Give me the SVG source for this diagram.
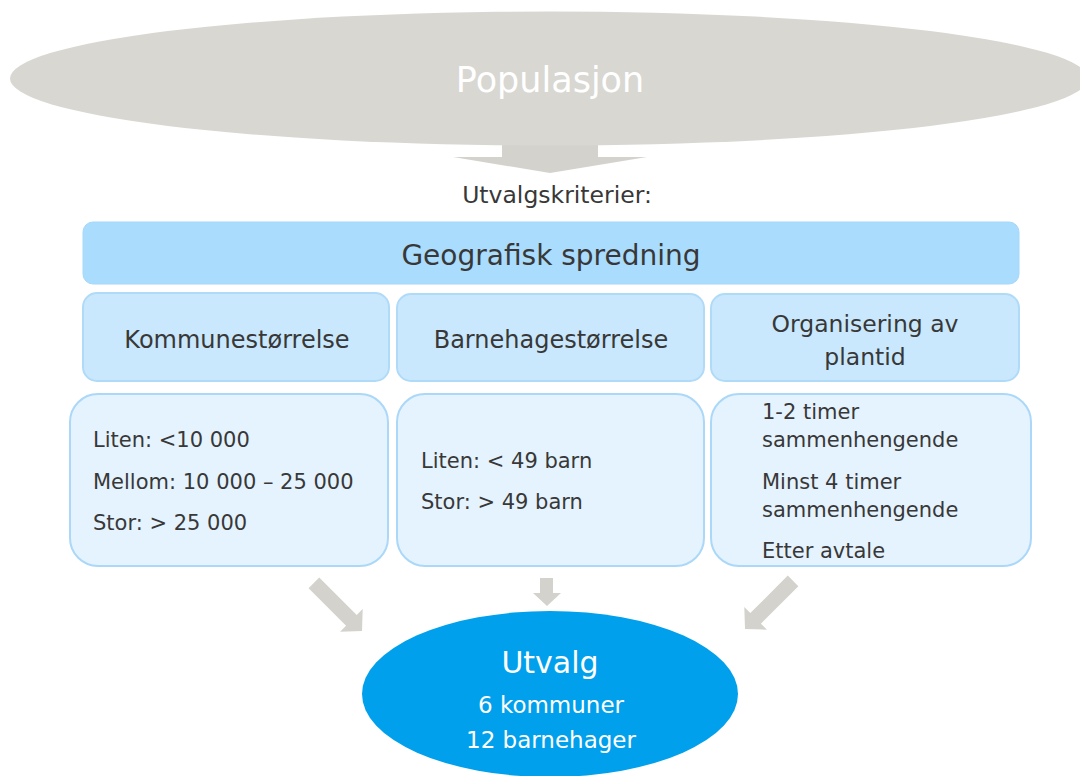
<svg xmlns="http://www.w3.org/2000/svg" xmlns:xlink="http://www.w3.org/1999/xlink" width="1080" height="776" viewBox="0 0 1080 776">
<style>
  .t { font-family: "DejaVu Sans", Verdana, sans-serif; fill: #383838; }
  .w { font-family: "DejaVu Sans", Verdana, sans-serif; fill: #ffffff; }
  .mid { text-anchor: middle; }
  .arrow { fill: #D3D2CC; }
  .bar { fill: #AADCFD; stroke: #A6D8FA; stroke-width: 1; }
  .hdr { fill: #CAE8FD; stroke: #B0DBF8; stroke-width: 2; }
  .body { fill: #E5F3FE; stroke: #ABD8F8; stroke-width: 2; }
</style>
<defs>
  <path id="diagArrow" d="M-68,-7.5 L-15,-7.5 L-15,-16 L0,0 L-15,16 L-15,7.5 L-68,7.5 Z"/>
</defs>
<rect width="1080" height="776" fill="#ffffff"/>

<g id="connectors">
  <polygon class="arrow" points="502,135 598,135 598,157 647,157 550,173 453,157 502,157"/>
  <use xlink:href="#diagArrow" class="arrow" transform="translate(362,631) rotate(45)"/>
  <use xlink:href="#diagArrow" class="arrow" transform="translate(745,629) rotate(135)"/>
  <polygon class="arrow" points="540,578 553,578 553,593 561,593 547,606 533,593 540,593"/>
</g>

<g id="populasjon">
  <ellipse cx="549" cy="78.5" rx="539" ry="67" fill="#D8D7D2"/>
  <text class="w mid" x="550" y="92" font-size="35">Populasjon</text>
</g>

<g id="utvalgskriterier">
  <text class="t mid" x="557" y="203" font-size="23.5">Utvalgskriterier:</text>
</g>

<g id="geografisk">
  <rect class="bar" x="83" y="222" width="936" height="62" rx="10"/>
  <text class="t mid" x="551" y="265" font-size="28">Geografisk spredning</text>
</g>

<g id="kommunestorrelse">
  <rect class="hdr" x="83" y="293" width="306" height="88" rx="14"/>
  <text class="t mid" x="237" y="348" font-size="24">Kommunestørrelse</text>
</g>

<g id="barnehagestorrelse">
  <rect class="hdr" x="397" y="294" width="307" height="87" rx="14"/>
  <text class="t mid" x="551" y="348" font-size="24">Barnehagestørrelse</text>
</g>

<g id="organisering">
  <rect class="hdr" x="711" y="294" width="308" height="87" rx="14"/>
  <text class="t mid" x="865" y="332" font-size="23.5">Organisering av</text>
  <text class="t mid" x="865" y="365" font-size="23.5">plantid</text>
</g>

<g id="kommune-detaljer">
  <rect class="body" x="70" y="394" width="318" height="172" rx="28"/>
  <text class="t" x="93" y="447" font-size="21">Liten: &lt;10 000</text>
  <text class="t" x="93" y="489" font-size="21">Mellom: 10 000 – 25 000</text>
  <text class="t" x="93" y="530" font-size="21">Stor: &gt; 25 000</text>
</g>

<g id="barnehage-detaljer">
  <rect class="body" x="397" y="394" width="307" height="172" rx="28"/>
  <text class="t" x="421" y="468" font-size="21">Liten: &lt; 49 barn</text>
  <text class="t" x="421" y="509" font-size="21">Stor: &gt; 49 barn</text>
</g>

<g id="plantid-detaljer">
  <rect class="body" x="711" y="394" width="320" height="172" rx="28"/>
  <text class="t" x="762" y="419" font-size="21">1-2 timer</text>
  <text class="t" x="762" y="447" font-size="21">sammenhengende</text>
  <text class="t" x="762" y="489" font-size="21">Minst 4 timer</text>
  <text class="t" x="762" y="517" font-size="21">sammenhengende</text>
  <text class="t" x="762" y="558" font-size="21">Etter avtale</text>
</g>

<g id="utvalg">
  <ellipse cx="550" cy="694" rx="188" ry="83" fill="#01A0EC"/>
  <text class="w mid" x="550" y="673" font-size="30">Utvalg</text>
  <text class="w mid" x="551" y="713" font-size="23">6 kommuner</text>
  <text class="w mid" x="551" y="748" font-size="23">12 barnehager</text>
</g>
</svg>
